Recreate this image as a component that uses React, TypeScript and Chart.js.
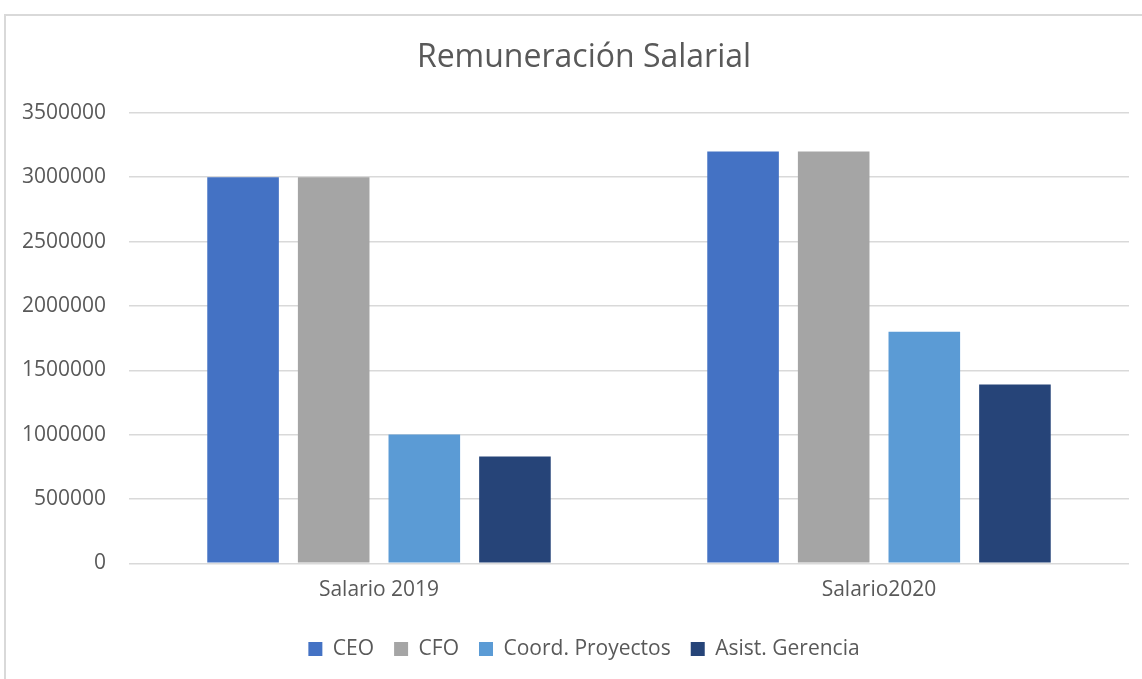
import React, { useEffect, useRef } from "react";
import { Chart, registerables } from "chart.js";

Chart.register(...registerables);

const chartTitle = "Remuneración Salarial";
const categories = ["Salario 2019", "Salario2020"];
const seriesNames = ["CEO", "CFO", "Coord. Proyectos", "Asist. Gerencia"];
const seriesColors = ["#4472C4", "#A5A5A5", "#5B9BD5", "#264478"];
const ceoValues = [3000000, 3200000];
const cfoValues = [3000000, 3200000];
const coordValues = [1000000, 1800000];
const asistValues = [830000, 1390000];
const yTickValues = [0, 500000, 1000000, 1500000, 2000000, 2500000, 3000000, 3500000];

const seriesValues = [ceoValues, cfoValues, coordValues, asistValues];
const TEXT = "#595959";
const FONT = "'Open Sans', 'Liberation Sans', sans-serif";

export default function App() {
  const canvasRef = useRef<HTMLCanvasElement | null>(null);

  useEffect(() => {
    const canvas = canvasRef.current;
    if (!canvas) return;
    const chart = new Chart(canvas, {
      type: "bar",
      data: {
        labels: categories,
        datasets: seriesNames.map((name, i) => ({
          label: name,
          data: seriesValues[i],
          backgroundColor: seriesColors[i],
          borderWidth: 0,
          categoryPercentage: 0.725,
          barPercentage: 0.79,
          yAxisID: "y",
        })),
      },
      options: {
        animation: false,
        responsive: false,
        maintainAspectRatio: false,
        layout: { padding: { left: 0, right: 0, top: 0, bottom: 9.5 } },
        plugins: {
          title: {
            display: true,
            text: chartTitle,
            color: TEXT,
            font: { family: FONT, size: 32, weight: "normal", lineHeight: 1.2 },
            padding: { top: 23, bottom: 35.5 },
          },
          legend: {
            display: true,
            position: "bottom",
            labels: {
              color: TEXT,
              font: { family: FONT, size: 21 },
              boxWidth: 14,
              boxHeight: 14,
              padding: 20,
            },
          },
          tooltip: { enabled: false },
        },
        scales: {
          x: {
            grid: { display: false, drawTicks: false },
            border: { display: false },
            ticks: {
              color: TEXT,
              font: { family: FONT, size: 21 },
              padding: 14,
              maxRotation: 0,
            },
            afterFit: (scale: any) => {
              scale.height = 55.2;
            },
          },
          y: {
            position: "left",
            min: 0,
            max: 3500000,
            grid: { color: "#d9d9d9", lineWidth: 1.5, drawTicks: false },
            border: { display: false },
            ticks: {
              color: TEXT,
              font: { family: FONT, size: 21 },
              padding: 23,
              callback: (v: any) => String(v),
            },
            afterBuildTicks: (scale: any) => {
              scale.ticks = yTickValues.map((v) => ({ value: v }));
            },
            afterFit: (scale: any) => {
              scale.width = 123;
            },
          },
          yRightSpace: {
            position: "right",
            display: true,
            grid: { display: false, drawTicks: false },
            border: { display: false },
            ticks: { display: false },
            afterFit: (scale: any) => {
              scale.width = 33;
            },
          },
        },
      },
    });
    return () => chart.destroy();
  }, []);

  return (
    <div
      style={{
        position: "fixed",
        left: 0,
        top: 0,
        width: "100vw",
        height: "100vh",
        overflow: "hidden",
        background: "#ffffff",
      }}
    >
      <div
        style={{
          position: "absolute",
          left: 4,
          top: 14,
          width: 1162,
          height: 720,
          border: "2px solid #d9d9d9",
          boxSizing: "border-box",
          background: "#ffffff",
        }}
      >
        <canvas
          ref={canvasRef}
          width={1156}
          height={663}
          style={{ position: "absolute", left: 0, top: 0, width: 1156, height: 663 }}
        />
      </div>
    </div>
  );
}
